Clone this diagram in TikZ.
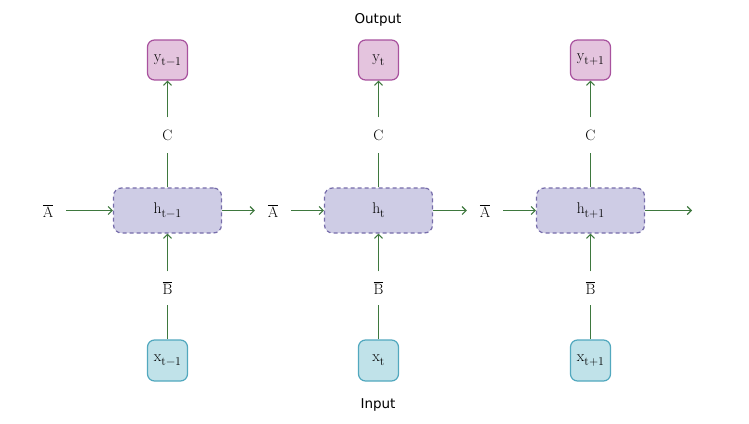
\documentclass[tikz,border=0pt]{standalone}
\usepackage{fontspec}
\setsansfont{DejaVu Sans}
\usetikzlibrary{arrows.meta}
\definecolor{ypink}{RGB}{228,196,222}
\definecolor{ypinkd}{RGB}{168,82,158}
\definecolor{hfill}{RGB}{206,204,229}
\definecolor{hdraw}{RGB}{118,108,170}
\definecolor{xfill}{RGB}{192,226,233}
\definecolor{xdraw}{RGB}{82,168,190}
\definecolor{arr}{RGB}{62,120,62}
\newcommand{\lowsub}[1]{\raisebox{-4pt}{\fontsize{12}{12}\selectfont #1}}
\newcommand{\barred}[1]{$\overline{\hbox{#1}}$}
\tikzset{
  ybox/.style={draw=ypinkd, fill=ypink, line width=1.2pt, rounded corners=7pt, minimum width=40pt, minimum height=40pt, inner sep=0pt, font=\fontsize{15.5}{17}\selectfont},
  xbox/.style={draw=xdraw, fill=xfill, line width=1.2pt, rounded corners=7pt, minimum width=40pt, minimum height=41pt, inner sep=0pt, font=\fontsize{15.5}{17}\selectfont},
  hbox/.style={draw=hdraw, fill=hfill, line width=1.2pt, dashed, dash pattern=on 4pt off 3pt, rounded corners=8pt, minimum width=108pt, minimum height=45pt, inner sep=0pt, font=\fontsize{15.5}{17}\selectfont},
  clab/.style={inner sep=0pt, minimum width=20pt, minimum height=35pt, font=\fontsize{15}{16}\selectfont},
  alab/.style={inner sep=0pt, minimum width=36pt, minimum height=20pt, font=\fontsize{15}{16}\selectfont},
  blab/.style={inner sep=0pt, minimum width=20pt, minimum height=33pt, font=\fontsize{15}{16}\selectfont},
  conn/.style={draw=arr, line width=1.1pt},
  arrw/.style={conn, -{Straight Barb[length=4pt,width=8pt]}},
  title/.style={font=\sffamily\fontsize{13.5}{16}\selectfont, inner sep=0pt}
}
\begin{document}
\begin{tikzpicture}[x=1pt,y=-1pt]
\useasboundingbox (0,0) rectangle (749,423);
\node[title] (out) at (378,20) {Output};
\node[title] (in) at (378,405) {Input};
% column 1
\node[ybox] (y1) at (167.5,60) {y\lowsub{t−1}};
\node[clab] (c1) at (167.5,135) {C};
\node[hbox] (h1) at (167.5,210.5) {h\lowsub{t−1}};
\node[blab] (b1) at (167.5,288) {\barred{B}};
\node[xbox] (x1) at (167.5,360.5) {x\lowsub{t−1}};
\node[alab] (a1) at (48,211) {\barred{A}};
% column 2
\node[ybox] (y2) at (378.5,60) {y\lowsub{t}};
\node[clab] (c2) at (378.5,135) {C};
\node[hbox] (h2) at (378.5,210.5) {h\lowsub{t}};
\node[blab] (b2) at (378.5,288) {\barred{B}};
\node[xbox] (x2) at (378.5,360.5) {x\lowsub{t}};
\node[alab] (a2) at (273,211) {\barred{A}};
% column 3
\node[ybox] (y3) at (590.5,60) {y\lowsub{t+1}};
\node[clab] (c3) at (590.5,135) {C};
\node[hbox] (h3) at (590.5,210.5) {h\lowsub{t+1}};
\node[blab] (b3) at (590.5,288) {\barred{B}};
\node[xbox] (x3) at (590.5,360.5) {x\lowsub{t+1}};
\node[alab] (a3) at (485,211) {\barred{A}};
\coordinate (end) at (692,210.5);
% connectors
\foreach \i in {1,2,3}{
  \draw[arrw] (c\i) -- (y\i);
  \draw[conn] (h\i) -- (c\i);
  \draw[arrw] (b\i) -- (h\i);
  \draw[conn] (x\i) -- (b\i);
  \draw[arrw] (a\i.east |- h\i) -- (h\i);
}
\draw[arrw] (h1) -- (a2.west |- h1);
\draw[arrw] (h2) -- (a3.west |- h2);
\draw[arrw] (h3) -- (end);
\end{tikzpicture}
\end{document}
